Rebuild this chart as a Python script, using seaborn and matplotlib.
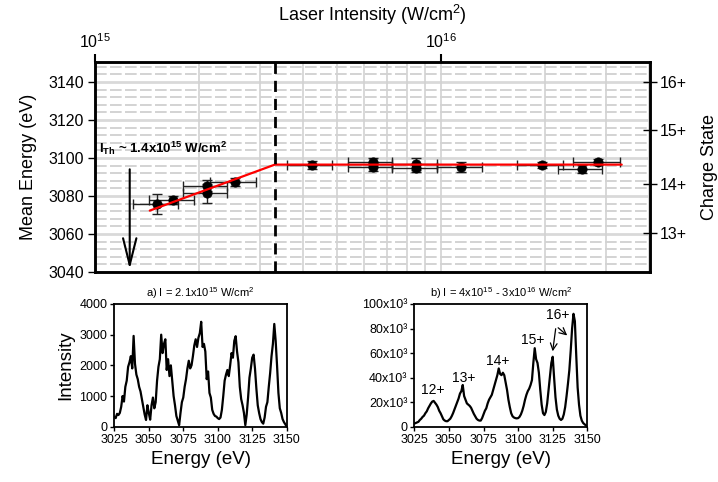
import numpy as np
import matplotlib
matplotlib.use("Agg")
import matplotlib.pyplot as plt
import seaborn as sns

# mean energy vs laser intensity (intensity in units of 1e15 W/cm^2)
intens = [1.514, 1.684, 2.112, 2.112, 2.539, 4.23, 6.35, 6.35, 8.47, 8.47, 11.42, 19.54, 25.51, 28.49]
intens_lo = [1.285, 1.435, 1.793, 1.793, 2.149, 3.58, 5.40, 5.40, 7.23, 7.23, 9.72, 16.55, 21.73, 24.11]
intens_hi = [1.740, 1.932, 2.411, 2.411, 2.919, 4.83, 7.23, 7.23, 9.72, 9.72, 13.16, 22.48, 29.25, 32.9]
mean_energy = [3075.6, 3077.9, 3085.4, 3081.4, 3087.2, 3096.3, 3098.1, 3095.4, 3096.8, 3094.6,
               3095.4, 3096.3, 3094.2, 3097.7]
energy_err = [5.3, 2.0, 3.0, 5.0, 2.0, 2.0, 2.0, 2.0, 3.0, 2.0, 2.6, 1.5, 2.0, 1.5]

# red fit (knee at threshold)
fit_x = [1.44, 3.31, 33.3]
fit_y = [3072.3, 3096.5, 3096.5]
knee_x = 3.31
arrow_x = 1.26

# charge state axis
charge_pos = [3060.4, 3086.2, 3114.7, 3140.0]
charge_lbl = ['13+', '14+', '15+', '16+']

# spectra, 1 eV steps from 3025 to 3150 eV
energy = np.arange(3025, 3151)
spec_a = [330, 280, 420, 380, 450, 650, 1000, 820, 1300, 1500,
          1950, 2100, 2300, 1900, 2960, 2050, 1700, 1550, 1300, 1150,
          900, 650, 400, 220, 700, 450, 230, 700, 950, 600,
          800, 1500, 1950, 2200, 3000, 2400, 2700, 2850, 1850, 2200,
          1650, 2000, 1500, 1000, 700, 350, 200, 50, 450, 800,
          950, 1300, 1550, 1900, 2150, 1900, 2000, 2300, 2650, 2850,
          2600, 2900, 3050, 3420, 2600, 2700, 2450, 1550, 1800, 1100,
          950, 550, 420, 350, 330, 280, 250, 300, 550, 1000,
          1500, 1700, 1850, 1650, 2000, 2400, 2250, 2800, 2950, 2450,
          2100, 1300, 900, 700, 450, 50, 400, 950, 1600, 1900,
          2250, 2350, 1900, 1250, 700, 450, 250, 150, 100, 300,
          650, 800, 1300, 1750, 2300, 2700, 3350, 2800, 2000, 1100,
          600, 450, 250, 150, 80, 0]
spec_b = [2.5, 3, 3.5, 4, 5.5, 6.5, 8, 9, 11, 12.5,
          15, 17, 19, 20.5, 21, 19.5, 18, 16, 13, 11,
          8.5, 6, 5, 4.5, 4.5, 5.5, 6.5, 8.5, 11, 14,
          17, 20, 23, 27, 29, 34, 25, 22, 19, 18,
          17, 15.5, 13, 10.5, 8.5, 6.5, 5.5, 5, 5, 7,
          10, 13, 15, 19, 22, 24, 26, 30, 34, 38,
          42, 47.5, 43, 42, 44, 42, 36, 30, 22, 16,
          11, 8.5, 7.5, 7, 6.8, 7, 8, 10, 13, 17,
          22, 26, 29, 31, 34, 38, 52, 64, 55, 52,
          44, 30, 18, 11, 9.5, 12, 19, 30, 41, 52,
          57, 40, 24, 14, 9, 6.5, 5.5, 6.5, 10, 16,
          25, 35, 46, 62, 80, 92, 86, 58, 32, 18,
          9, 5, 3, 2, 1, 0.5]
peak_lbl = ['12+', '13+', '14+', '15+', '16+']
peak_e = [3038.5, 3061.0, 3085.0, 3110.5, 3128.5]
peak_i = [30.0, 40.0, 53.5, 71.0, 91.0]

sns.set_theme(style='white')
plt.rcParams['font.family'] = ['Liberation Sans', 'DejaVu Sans']
plt.rcParams['mathtext.fontset'] = 'custom'
plt.rcParams['mathtext.rm'] = 'Liberation Sans'
plt.rcParams['mathtext.it'] = 'Liberation Sans:italic'
plt.rcParams['mathtext.bf'] = 'Liberation Sans:bold'
plt.rcParams['axes.edgecolor'] = 'black'
plt.rcParams['text.color'] = 'black'
plt.rcParams['axes.labelcolor'] = 'black'
plt.rcParams['xtick.color'] = 'black'
plt.rcParams['ytick.color'] = 'black'

fig = plt.figure(figsize=(7.18, 4.82), dpi=100)

# ---------- top panel ----------
ax = fig.add_axes([0.1323, 0.4357, 0.773, 0.4357])
ax.set_xscale('log')
ax.set_xlim(1e15, 4.02e16)
ax.set_ylim(3040, 3150.5)

# grid like the original
for e in range(3040, 3151, 4):
    if e % 20 == 0:
        ax.axhline(e, color='#d9d9d9', lw=2.0, zorder=0)
    else:
        ax.axhline(e, color='#cccccc', lw=1.2, ls=(0, (7, 2)), zorder=0)
for v in [2, 3, 4, 5, 6, 7, 8, 9, 10, 20, 30, 40]:
    ax.axvline(v * 1e15, color='#d2d2d2', lw=1.2, zorder=0)

xs = np.array(intens) * 1e15
xlo = xs - np.array(intens_lo) * 1e15
xhi = np.array(intens_hi) * 1e15 - xs
ax.errorbar(xs, mean_energy, xerr=[xlo, xhi], yerr=energy_err, fmt='none',
            ecolor='#222222', elinewidth=1, capsize=3.5, capthick=1, zorder=3)
sns.scatterplot(x=xs, y=mean_energy, ax=ax, color='black', s=45, edgecolor='black',
                linewidth=0.5, zorder=4, legend=False)
ax.plot(np.array(fit_x) * 1e15, fit_y, color='red', lw=1.6, zorder=5)
ax.axvline(knee_x * 1e15, color='black', lw=2, ls=(0, (4, 2.5)), zorder=6)
ax.annotate('', xy=(arrow_x * 1e15, 3040), xytext=(arrow_x * 1e15, 3095.5),
            arrowprops=dict(arrowstyle='->,head_length=1.6,head_width=0.4', color='black', lw=1.5),
            zorder=6)
ax.text(1.03e15, 3102.5,
        r'I$_{\mathbf{Th}}$ ~ 1.4x10$^{\mathbf{15}}$ W/cm$^{\mathbf{2}}$',
        fontsize=9.5, fontweight='bold', ha='left', va='baseline', zorder=7)

ax.xaxis.tick_top()
ax.xaxis.set_label_position('top')
ax.tick_params(axis='x', which='major', top=True, bottom=False, length=6, width=1.5,
               labelsize=11.5, pad=2)
ax.tick_params(axis='x', which='minor', length=0)
ax.set_xlabel('Laser Intensity (W/cm$^2$)', fontsize=13, labelpad=8)
ax.set_yticks(range(3040, 3141, 20))
ax.tick_params(axis='y', left=True, length=5, width=1, labelsize=11.5, pad=3)
ax.set_ylabel('Mean Energy (eV)', fontsize=13, labelpad=8)
for s in ax.spines.values():
    s.set_linewidth(1.8)

ax2 = ax.twinx()
ax2.set_ylim(ax.get_ylim())
ax2.set_yticks(charge_pos)
ax2.set_yticklabels(charge_lbl)
ax2.tick_params(axis='y', right=True, direction='inout', length=10, width=1,
                labelsize=11.5, pad=2)
ax2.set_ylabel('Charge State', fontsize=13, labelpad=10)
for s in ax2.spines.values():
    s.set_linewidth(1.8)

# ---------- bottom-left spectrum ----------
axa = fig.add_axes([0.1592, 0.1147, 0.2401, 0.2546])
sns.lineplot(x=energy, y=spec_a, ax=axa, color='black', lw=1.6, estimator=None)
axa.set_xlim(3025, 3150)
axa.set_ylim(0, 4000)
axa.set_xticks(range(3025, 3151, 25))
axa.set_yticks(range(0, 4001, 1000))
axa.tick_params(axis='both', bottom=True, left=True, length=3, width=1, labelsize=9, pad=2)
axa.set_xlabel('Energy (eV)', fontsize=13.5, labelpad=4)
axa.set_ylabel('Intensity', fontsize=13.5, labelpad=4)
axa.set_title('a) I = 2.1x10$^{15}$ W/cm$^2$', fontsize=8, pad=5)
for s in axa.spines.values():
    s.set_linewidth(1.3)

# ---------- bottom-right spectrum ----------
axb = fig.add_axes([0.577, 0.1147, 0.241, 0.2546])
sns.lineplot(x=energy, y=np.array(spec_b) * 1000, ax=axb, color='black', lw=1.6, estimator=None)
axb.set_xlim(3025, 3150)
axb.set_ylim(0, 100000)
axb.set_xticks(range(3025, 3151, 25))
axb.set_yticks(range(0, 100001, 20000))
axb.set_yticklabels(['0'] + [f'{k}x10\u00b3' for k in range(20, 101, 20)])
axb.tick_params(axis='both', bottom=True, left=True, length=3, width=1, labelsize=9, pad=2)
axb.set_xlabel('Energy (eV)', fontsize=13.5, labelpad=4)
axb.set_ylabel('')
axb.set_title('b) I = 4x10$^{15}$ - 3x10$^{16}$ W/cm$^2$', fontsize=8, pad=5)
for s in axb.spines.values():
    s.set_linewidth(1.3)
for lbl, e, i in zip(peak_lbl, peak_e, peak_i):
    axb.text(e, i * 1000, lbl, fontsize=10, ha='center', va='center')
for tx, ty in [(3124.7, 59200), (3137.0, 72900)]:
    axb.annotate('', xy=(tx, ty), xytext=(3127.4, 82100),
                 arrowprops=dict(arrowstyle='->', color='black', lw=0.9))

fig.savefig('out.png', dpi=100)
